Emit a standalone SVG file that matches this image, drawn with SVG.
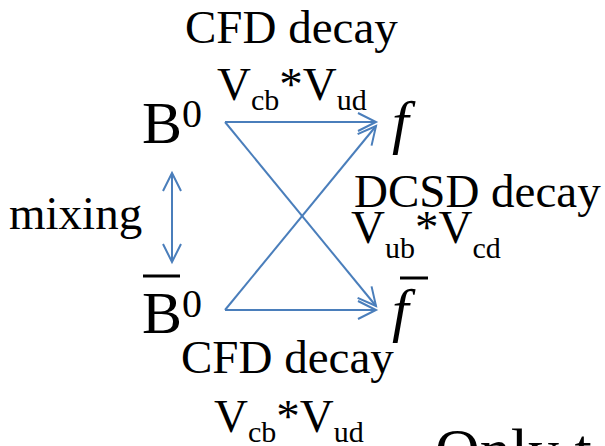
<svg xmlns="http://www.w3.org/2000/svg" width="605" height="446" viewBox="0 0 605 446">
<style>
text{font-family:"Liberation Serif","Times New Roman",serif;fill:#000}
.t{font-size:47px}
.big{font-size:60px}
.sub{font-size:30px}
.sup{font-size:40px}
.it{font-style:italic}
.c{stroke:#4A7EBB;stroke-width:2;fill:none}
.bar{stroke:#000;stroke-width:3}
</style>
<defs>
<marker id="ah" markerUnits="userSpaceOnUse" orient="auto-start-reverse" markerWidth="40" markerHeight="40" refX="0" refY="0" viewBox="-20 -20 40 40" overflow="visible">
<path d="M-18,-9 L0,0 L-18,9" fill="none" stroke="#4A7EBB" stroke-width="2"/>
</marker>
</defs>
<rect width="605" height="446" fill="#fff"/>
<g id="connectors">
<line class="c" x1="225" y1="122" x2="376" y2="122" marker-end="url(#ah)"/>
<line class="c" x1="225" y1="122" x2="376" y2="306" marker-end="url(#ah)"/>
<line class="c" x1="225" y1="310" x2="376" y2="310" marker-end="url(#ah)"/>
<line class="c" x1="225" y1="310" x2="376" y2="126" marker-end="url(#ah)"/>
<line class="c" x1="172" y1="173" x2="172" y2="262" marker-start="url(#ah)" marker-end="url(#ah)"/>
</g>
<g id="B0">
<text class="big" x="142" y="143">B<tspan class="sup" dy="-16">0</tspan></text>
</g>
<g id="f">
<text class="big it" x="392" y="142">f</text>
</g>
<g id="B0bar">
<line class="bar" x1="143" y1="276" x2="180" y2="276"/>
<text class="big" x="142" y="333">B<tspan class="sup" dy="-16">0</tspan></text>
</g>
<g id="fbar">
<line class="bar" x1="400" y1="278" x2="428" y2="278"/>
<text class="big it" x="392" y="330">f</text>
</g>
<g id="label-top">
<text class="t" x="185" y="43">CFD decay</text>
<text class="t" x="217" y="100">V<tspan class="sub" dy="10">cb</tspan><tspan dy="-10">*V</tspan><tspan class="sub" dy="10">ud</tspan></text>
</g>
<g id="label-mixing">
<text class="t" x="9" y="229">mixing</text>
</g>
<g id="label-dcsd">
<text class="t" x="354" y="207">DCSD decay</text>
<text class="t" x="351" y="243">V<tspan class="sub" dy="15">ub</tspan><tspan dy="-15">*V</tspan><tspan class="sub" dy="15">cd</tspan></text>
</g>
<g id="label-bottom">
<text class="t" x="181" y="373">CFD decay</text>
<text class="t" x="214" y="432">V<tspan class="sub" dy="10">cb</tspan><tspan dy="-10">*V</tspan><tspan class="sub" dy="10">ud</tspan></text>
</g>
<text style="font-size:62px" x="435" y="471">Only t</text>
</svg>
